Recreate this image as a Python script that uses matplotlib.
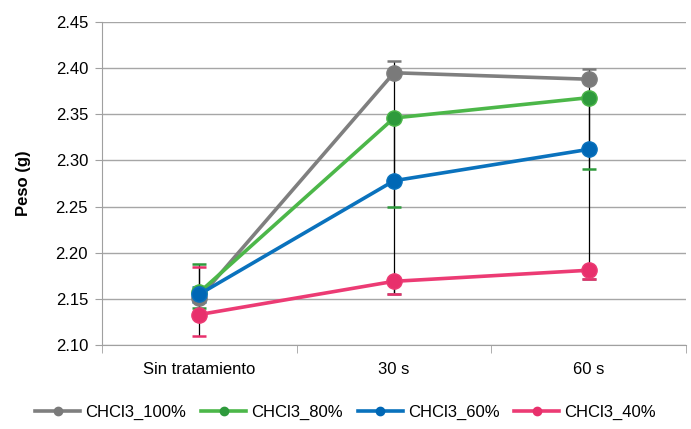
import matplotlib
matplotlib.use("Agg")
import matplotlib.pyplot as plt
from matplotlib import font_manager
import numpy as np

categories = ["Sin tratamiento", "30 s", "60 s"]
series_names = ["CHCl3_100%", "CHCl3_80%", "CHCl3_60%", "CHCl3_40%"]
vals_100 = [2.151, 2.395, 2.388]
vals_80 = [2.157, 2.346, 2.368]
vals_60 = [2.155, 2.278, 2.312]
vals_40 = [2.133, 2.169, 2.181]
hi_100 = [2.153, 2.408, 2.399]
lo_100 = [2.149, 2.155, 2.172]
hi_80 = [2.188, 2.346, 2.368]
lo_80 = [2.140, 2.250, 2.291]
hi_60 = [2.163, 2.278, 2.312]
lo_60 = [2.147, 2.278, 2.312]
hi_40 = [2.184, 2.169, 2.181]
lo_40 = [2.110, 2.155, 2.172]
yticks = [2.10, 2.15, 2.20, 2.25, 2.30, 2.35, 2.40, 2.45]

names = {f.name for f in font_manager.fontManager.ttflist}
fam = "Liberation Sans Narrow" if "Liberation Sans Narrow" in names else "Liberation Sans"
plt.rcParams['font.family'] = [fam, 'DejaVu Sans']

line_colors = ["#7f7f7f", "#4cb749", "#0a72bd", "#ec3b74"]
marker_colors = ["#7a7a7a", "#2e9a3c", "#0067b5", "#e8306c"]
vals = [vals_100, vals_80, vals_60, vals_40]
his = [hi_100, hi_80, hi_60, hi_40]
los = [lo_100, lo_80, lo_60, lo_40]

fig = plt.figure(figsize=(6.91, 4.29), dpi=100)
ax = fig.add_axes([102/691, 84/429, 584/691, 323/429])
x = np.arange(len(categories))

for i in range(4):
    v = np.array(vals[i]); h = np.array(his[i]); l = np.array(los[i])
    ax.errorbar(x, v, yerr=[v - l, h - v], fmt='none', ecolor='black',
                elinewidth=0.9, capsize=0, zorder=2)
    ax.plot(x, h, linestyle='none', marker='_', markersize=10, mew=1.8,
            color=marker_colors[i], zorder=3)
    ax.plot(x, l, linestyle='none', marker='_', markersize=10, mew=1.8,
            color=marker_colors[i], zorder=3)
    ax.plot(x, v, color=line_colors[i], lw=2.6, marker='o', markersize=11,
            markerfacecolor=marker_colors[i], markeredgecolor=line_colors[i],
            zorder=4, label=series_names[i])

ax.set_xlim(-0.5, 2.5)
ax.set_ylim(2.10, 2.45)
ax.set_yticks(yticks)
ax.set_yticklabels([f"{t:.2f}" for t in yticks], fontsize=12)
ax.set_xticks(x)
ax.set_xticklabels(categories, fontsize=12)
ax.set_xticks([-0.5, 0.5, 1.5, 2.5], minor=True)
ax.tick_params(axis='x', which='major', length=0, pad=12)
ax.tick_params(axis='x', which='minor', length=6, color='#a0a0a0')
ax.tick_params(axis='y', length=5, color='#a0a0a0', pad=5)
ax.grid(axis='y', color='#a6a6a6', lw=1)
ax.set_axisbelow(True)
for s in ['top', 'right']:
    ax.spines[s].set_visible(False)
for s in ['left', 'bottom']:
    ax.spines[s].set_color('#a0a0a0')
ax.set_ylabel("Peso (g)", fontsize=12, fontweight='bold', labelpad=18)

leg_handles = []
for i in range(4):
    lh, = ax.plot([], [], color=line_colors[i], lw=2.6, marker='o', markersize=6,
                  markerfacecolor=marker_colors[i], markeredgecolor=marker_colors[i])
    leg_handles.append(lh)
fig.legend(leg_handles, series_names, loc='center', bbox_to_anchor=(0.5, 17/429),
           ncol=4, frameon=False, fontsize=12, handlelength=2.7, handletextpad=0.3,
           columnspacing=0.9)

fig.savefig("out.png", dpi=100)
